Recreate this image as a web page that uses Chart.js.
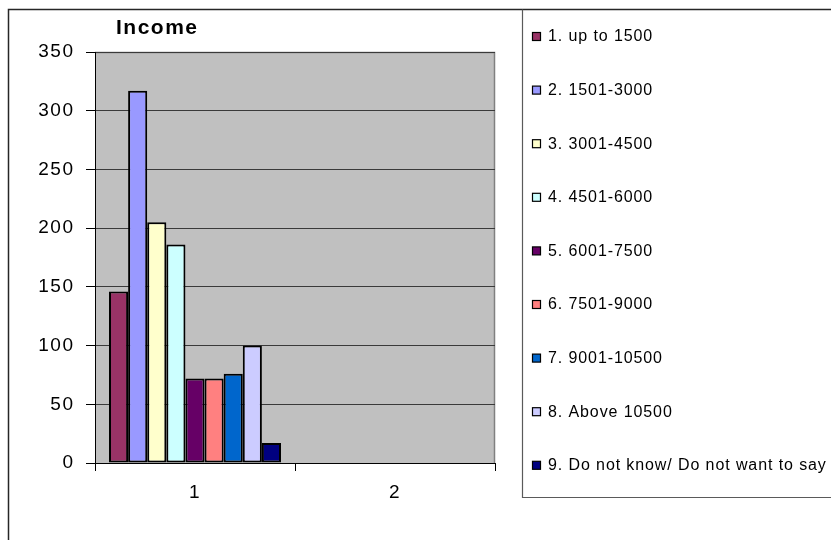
<!DOCTYPE html>
<html>
<head>
<meta charset="utf-8">
<title>Income</title>
<script src="https://cdn.jsdelivr.net/npm/chart.js@4/dist/chart.umd.min.js"></script>
<style>
  html, body { margin: 0; padding: 0; background: #ffffff; overflow: hidden; }
  #wrap { position: relative; width: 831px; height: 540px; }
</style>
</head>
<body>
<div id="wrap"><canvas id="chart" width="831" height="540"></canvas></div>
<script>
// Income brackets shown in the legend
const bracketLabels = [
  '1. up to 1500',
  '2. 1501-3000',
  '3. 3001-4500',
  '4. 4501-6000',
  '5. 6001-7500',
  '6. 7501-9000',
  '7. 9001-10500',
  '8. Above 10500',
  '9. Do not know/ Do not want to say'
];
// Respondent counts per bracket (group "1"); group "2" is empty
const bracketCounts = [146, 317, 205, 186, 72, 72, 76, 100, 17];
const groupLabels = ['1', '2'];
const bracketColors = ['#993366', '#9999FF', '#FFFFCC', '#CCFFFF', '#660066', '#FF8080', '#0066CC', '#CCCCFF', '#000080'];
const yTicks = { min: 0, max: 350, step: 50 };
const chartTitle = 'Income';

const datasets = bracketLabels.map((label, i) => ({
  label: label,
  data: [bracketCounts[i], null],
  backgroundColor: bracketColors[i],
  borderColor: '#000000',
  borderWidth: 2,
  borderSkipped: false,
  categoryPercentage: 0.86,
  barPercentage: 1.0
}));

// Grey plot background, outer frame, title and the boxed legend on the right
const decorations = {
  id: 'decorations',
  beforeDraw(chart) {
    const { ctx, chartArea: a } = chart;
    // slightly open letter spacing for all text on the canvas
    ctx.letterSpacing = '1.5px';
    ctx.save();
    ctx.fillStyle = '#ffffff';
    ctx.fillRect(0, 0, chart.width, chart.height);
    ctx.fillStyle = '#C0C0C0';
    ctx.fillRect(a.left, a.top, a.right - a.left, a.bottom - a.top);
    // plot-area border (top and right in grey)
    ctx.strokeStyle = '#808080';
    ctx.lineWidth = 1.5;
    ctx.beginPath();
    ctx.moveTo(a.left, a.top + 0.5);
    ctx.lineTo(a.right - 0.5, a.top + 0.5);
    ctx.lineTo(a.right - 0.5, a.bottom);
    ctx.stroke();
    ctx.restore();
  },
  afterDraw(chart) {
    const { ctx } = chart;
    ctx.save();
    // outer frame
    ctx.strokeStyle = '#262626';
    ctx.lineWidth = 1.5;
    ctx.beginPath();
    ctx.moveTo(8.5, chart.height + 5);
    ctx.lineTo(8.5, 9.5);
    ctx.lineTo(chart.width + 5, 9.5);
    ctx.stroke();

    // title
    ctx.fillStyle = '#000000';
    ctx.letterSpacing = '1.5px';
    ctx.font = 'bold 21px "Liberation Sans", Arial, sans-serif';
    ctx.textAlign = 'left';
    ctx.textBaseline = 'alphabetic';
    ctx.fillText(chartTitle, 116, 34);

    // legend box
    ctx.strokeStyle = '#5a5a5a';
    ctx.lineWidth = 1.2;
    ctx.beginPath();
    ctx.moveTo(522.5, 9.5);
    ctx.lineTo(522.5, 497.5);
    ctx.lineTo(chart.width + 5, 497.5);
    ctx.stroke();

    // legend entries
    ctx.font = '16px "Liberation Sans", Arial, sans-serif';
    ctx.letterSpacing = '0.9px';
    ctx.textBaseline = 'middle';
    chart.data.datasets.forEach((ds, i) => {
      const cy = 37 + i * 53.6;
      ctx.fillStyle = ds.backgroundColor;
      ctx.fillRect(532.5, cy - 4.5, 8, 8);
      ctx.strokeStyle = '#000000';
      ctx.lineWidth = 1.2;
      ctx.strokeRect(532.5, cy - 4.5, 8, 8);
      ctx.fillStyle = '#000000';
      ctx.fillText(ds.label, 548, cy);
    });
    ctx.restore();
  }
};

new Chart(document.getElementById('chart'), {
  type: 'bar',
  data: { labels: groupLabels, datasets: datasets },
  options: {
    responsive: false,
    animation: false,
    devicePixelRatio: 1,
    layout: { padding: { top: 52, right: 336, bottom: 0, left: 0 } },
    plugins: {
      legend: { display: false },
      title: { display: false },
      tooltip: { enabled: false }
    },
    scales: {
      x: {
        offset: true,
        grid: {
          offset: true,
          drawOnChartArea: false,
          drawTicks: true,
          tickLength: 8,
          tickColor: '#000000',
          tickWidth: 1
        },
        border: { color: '#000000', width: 1 },
        ticks: {
          color: '#000000',
          font: { family: '"Liberation Sans", Arial, sans-serif', size: 19 },
          padding: 10
        },
        afterFit(scale) { scale.height = 77; }
      },
      y: {
        min: yTicks.min,
        max: yTicks.max,
        grid: {
          color: '#3a3a3a',
          lineWidth: 1,
          drawTicks: true,
          tickLength: 9,
          tickColor: '#000000'
        },
        border: { color: '#000000', width: 1 },
        ticks: {
          stepSize: yTicks.step,
          color: '#000000',
          font: { family: '"Liberation Sans", Arial, sans-serif', size: 19 },
          padding: 11.5
        },
        afterFit(scale) { scale.width = 95; }
      }
    }
  },
  plugins: [decorations]
});
</script>
</body>
</html>
